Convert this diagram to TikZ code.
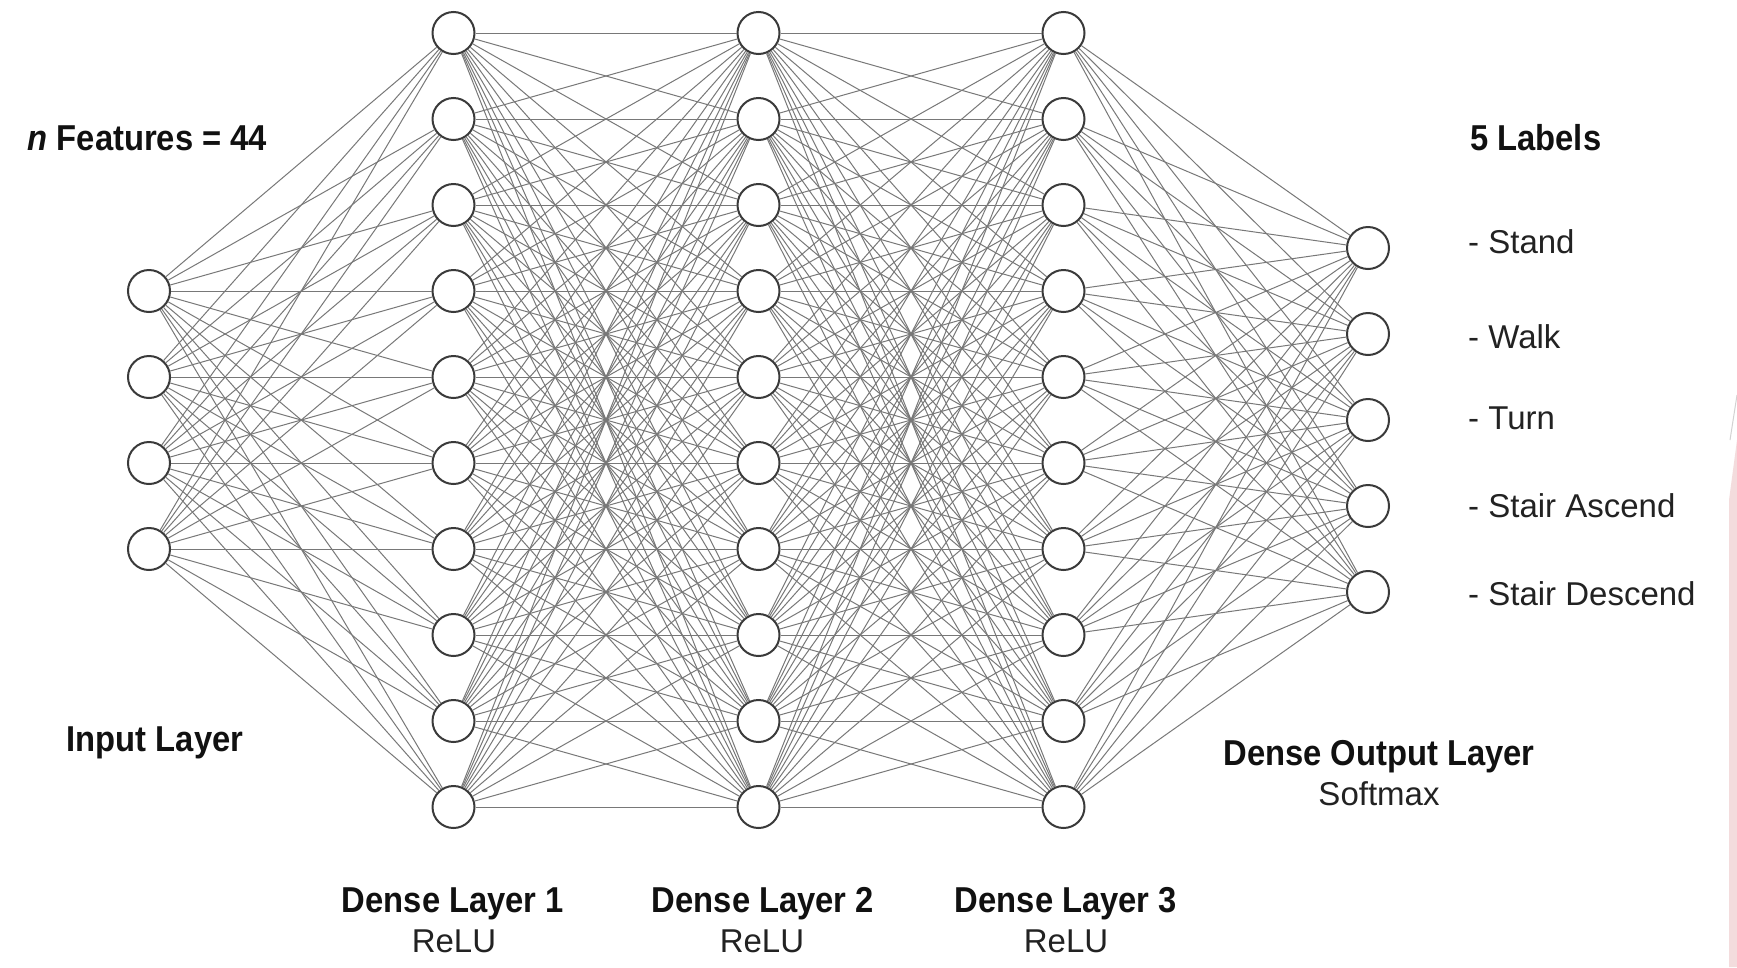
\documentclass[tikz,border=0pt]{standalone}
\usepackage{fontspec}
\setmainfont{Liberation Sans}
\newfontfamily\headfont[FakeStretch=0.91]{Liberation Sans}

\definecolor{ncol}{HTML}{3A3A3A}
\definecolor{lcol}{HTML}{787878}
\definecolor{tcol}{HTML}{111111}
\definecolor{scol}{HTML}{222222}
\definecolor{edgepink}{HTML}{F3DCDD}

\tikzset{
  neuron/.style={circle, draw=ncol, line width=2pt, fill=white,
                 minimum size=42pt, inner sep=0pt},
  link/.style={draw=lcol, line width=1pt},
  title/.style={font=\headfont\bfseries\fontsize{36}{40}\selectfont,
                text=tcol, inner sep=0pt},
  sub/.style={font=\fontsize{33}{38}\selectfont, text=scol, inner sep=0pt},
}

\begin{document}
\begin{tikzpicture}[x=1pt,y=-1pt]
\useasboundingbox (0,0) rectangle (1737,967);
\fill[white] (0,0) rectangle (1737,967);

% strip of a neighbouring shape at the right edge
\draw[gray!35, line width=1pt] (1737,395) -- (1730,440);
\fill[edgepink] (1737,440) -- (1729,500) -- (1729,967) -- (1737,967) -- cycle;

% neurons
\foreach \i in {1,...,4}
  \node[neuron] (in\i) at (149,{291+86*(\i-1)}) {};
\foreach \i in {1,...,10} {
  \node[neuron] (a\i) at (453.5,{33+86*(\i-1)}) {};
  \node[neuron] (b\i) at (758.5,{33+86*(\i-1)}) {};
  \node[neuron] (c\i) at (1063.5,{33+86*(\i-1)}) {};
}
\foreach \i in {1,...,5}
  \node[neuron] (out\i) at (1368,{248+86*(\i-1)}) {};

% fully connected weights
\foreach \i in {1,...,4}
  \foreach \j in {1,...,10}
    \draw[link] (in\i) -- (a\j);
\foreach \i in {1,...,10}
  \foreach \j in {1,...,10} {
    \draw[link] (a\i) -- (b\j);
    \draw[link] (b\i) -- (c\j);
  }
\foreach \i in {1,...,10}
  \foreach \j in {1,...,5}
    \draw[link] (c\i) -- (out\j);

% layer captions
\node[title, anchor=base west] (feat) at (27.5,150) {\textit{n} Features = 44};
\node[title, anchor=base west] (inlab) at (66.5,751) {Input Layer};
\node[title, anchor=base] (d1) at (453,912) {Dense Layer 1};
\node[sub, anchor=base] (r1) at (454,952) {ReLU};
\node[title, anchor=base] (d2) at (763,912) {Dense Layer 2};
\node[sub, anchor=base] (r2) at (762,952) {ReLU};
\node[title, anchor=base] (d3) at (1066,912) {Dense Layer 3};
\node[sub, anchor=base] (r3) at (1066,952) {ReLU};
\node[title, anchor=base] (dout) at (1379,765) {Dense Output Layer};
\node[sub, anchor=base] (soft) at (1379,805) {Softmax};

% class labels
\node[title, anchor=base west] (lab) at (1470,150) {5 Labels};
\node[sub, anchor=base west] (l1) at (1468,253.5) {- Stand};
\node[sub, anchor=base west] (l2) at (1468,348.5) {- Walk};
\node[sub, anchor=base west] (l3) at (1468,429.5) {- Turn};
\node[sub, anchor=base west] (l4) at (1468,517.5) {- Stair Ascend};
\node[sub, anchor=base west] (l5) at (1468,605.5) {- Stair Descend};
\end{tikzpicture}
\end{document}
